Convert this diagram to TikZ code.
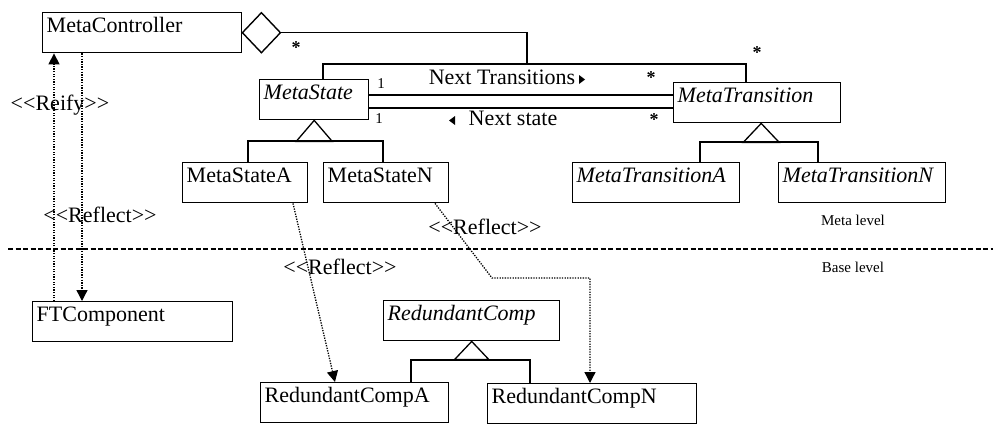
\documentclass[tikz,border=0pt]{standalone}
\usepackage{fontspec}
\setmainfont{Liberation Serif}
\usetikzlibrary{arrows.meta,calc}
% stereotype brackets without the guillemet ligature
\newcommand{\stereo}[1]{<\kern0pt<#1>\kern0pt>}
\begin{document}
\begin{tikzpicture}[x=1pt,y=-1pt,line width=1.2pt,
  umlbox/.style={draw, line width=1.4pt, anchor=north west, align=left,
    text width=#1, inner xsep=4pt, inner ysep=3pt,
    text height=17pt, text depth=17pt, font=\fontsize{22}{24}\selectfont},
  label22/.style={inner sep=0pt, font=\fontsize{22}{24}\selectfont},
  smalltxt/.style={inner sep=0pt, font=\fontsize{15}{17}\selectfont},
  mult/.style={inner sep=0pt, font=\fontsize{18}{20}\selectfont\bfseries},
  reflectarrow/.style={line width=1.3pt, dash pattern=on 1.3pt off 1.3pt,
    -{Triangle[width=11pt,length=11pt]}},
  gen/.style={line width=1.3pt, line join=miter}
]
\useasboundingbox (0,0) rectangle (993,426);

% ---------- meta level classes ----------
\node[umlbox=191pt] (mc)  at (42,12)   {MetaController};
\node[umlbox=101pt] (ms)  at (259,79)  {\itshape MetaState};
\node[umlbox=159pt] (mt)  at (673,82)  {\itshape MetaTransition};
\node[umlbox=117pt] (msa) at (182,162) {MetaStateA};
\node[umlbox=117pt] (msn) at (323,162) {MetaStateN};
\node[umlbox=159pt] (mta) at (572,162) {\itshape MetaTransitionA};
\node[umlbox=159pt] (mtn) at (778,162) {\itshape MetaTransitionN};

% ---------- base level classes ----------
\node[umlbox=192pt] (ft)  at (32,301)  {FTComponent};
\node[umlbox=168pt] (rc)  at (383,300) {\itshape RedundantComp};
\node[umlbox=180pt] (rca) at (260,382) {RedundantCompA};
\node[umlbox=201pt] (rcn) at (487,383) {RedundantCompN};

% ---------- aggregation from the controller ----------
\draw[line width=1.4pt, line join=miter] (mc.east) -- ++(19,-20) -- ++(19,20) -- ++(-19,20) -- cycle;
\coordinate (dtip) at ($(mc.east)+(38,0)$);
\coordinate (aggj) at (527,64);
\draw (dtip) -| (aggj);
\draw ($(ms.north west)+(64,0)$) -- ++(0,-15) -| ($(mt.north west)+(73,0)$);
\node[mult] (s1) at (296,48) {*};
\node[mult] (s2) at (757,53) {*};

% ---------- associations between state and transition ----------
\draw ($(ms.north east)+(0,16)$) -- ($(mt.north west)+(0,13)$);
\draw ($(ms.north east)+(0,29)$) -- ($(mt.north west)+(0,26)$);
\node[label22] (nt) at (502,77) {Next Transitions};
\fill (579,75) -- (585,79.5) -- (579,84) -- cycle;
\node[label22] (ns) at (513,118) {Next state};
\fill (455,116) -- (449,120.5) -- (455,125) -- cycle;
\node[smalltxt] (o1) at (381,84) {1};
\node[smalltxt] (o2) at (379,119) {1};
\node[mult] (s3) at (651,78) {*};
\node[mult] (s4) at (654,120) {*};

% ---------- generalisations ----------
\draw[gen] (ms.south) -- ++(-18,21) -- ++(36,0) -- cycle;
\draw ($(msa.north west)+(66,0)$) -- ++(0,-21) -| ($(msn.north west)+(60,0)$);
\draw[gen] ($(mt.south)+(4,0)$) -- ++(-18,19) -- ++(36,0) -- cycle;
\draw ($(mta.north west)+(128,0)$) -- ++(0,-20) -| ($(mtn.north west)+(40,0)$);
\draw[gen] (rc.south) -- ++(-17,18) -- ++(34,0) -- cycle;
\draw ($(rca.north west)+(151,0)$) -- ++(0,-22) -| ($(rcn.north west)+(43,0)$);

% ---------- level separator ----------
\coordinate (sepL) at (8,249);
\coordinate (sepR) at (993,249);
\draw[line width=1.2pt, dash pattern=on 5pt off 2.5pt] (sepL) -- (sepR);
\node[smalltxt] (ml) at (853,220) {Meta level};
\node[smalltxt] (bl) at (853,267) {Base level};

% ---------- reify / reflect ----------
\draw[reflectarrow] ($(ft.north west)+(22,0)$) -- ($(mc.south west)+(12,0)$);
\draw[reflectarrow] ($(mc.south west)+(40,0)$) -- ($(ft.north west)+(50,0)$);
\node[label22] (lreify) at (60,105) {\stereo{Reify}};
\node[label22] (lref1) at (100,215) {\stereo{Reflect}};

\draw[reflectarrow] ($(msa.south west)+(111,0)$) -- ($(rca.north west)+(75,0)$);
\node[label22] (lref2) at (340,267) {\stereo{Reflect}};

\coordinate (rbend) at (492,278);
\draw[reflectarrow] ($(msn.south west)+(112,0)$) -- (rbend) -| ($(rcn.north west)+(103,0)$);
\node[label22] (lref3) at (485,227) {\stereo{Reflect}};
\end{tikzpicture}
\end{document}
